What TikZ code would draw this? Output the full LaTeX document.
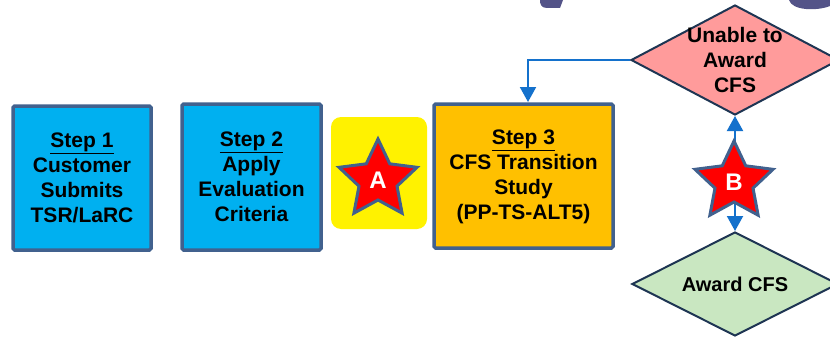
\documentclass[tikz,border=0pt]{standalone}
\usepackage{fontspec}
\setmainfont{Liberation Sans}
\usetikzlibrary{shapes.geometric,arrows.meta}
\definecolor{stepblue}{HTML}{00B0F0}
\definecolor{stepgold}{HTML}{FFC000}
\definecolor{steprim}{HTML}{41618E}
\definecolor{noaward}{HTML}{FF9B9B}
\definecolor{yesaward}{HTML}{C9E7C1}
\definecolor{dline}{HTML}{1E3553}
\definecolor{flow}{HTML}{1471CC}
\definecolor{titlefrag}{HTML}{535388}
\newcommand\steptitle[1]{\underline{#1}}
\tikzset{
  stepbox/.style={draw=steprim,line width=3.5pt,rounded corners=1.5pt},
  decision/.style={diamond,draw=dline,line width=2pt,inner sep=0pt},
  dtext/.style={align=center,font=\bfseries\fontsize{21}{25}\selectfont},
  markstar/.style={star,star points=5,star point ratio=2.05,fill=red,draw=steprim,
    line width=3pt,minimum size=82pt,inner sep=0pt,text=white,
    font=\bfseries\fontsize{24}{24}\selectfont},
  flowline/.style={draw=flow,line width=2pt,-{Triangle[width=16pt,length=15pt]}}
}
\begin{document}
\begin{tikzpicture}[x=1pt,y=-1pt]
\useasboundingbox (0,0) rectangle (830,337);
% bits of the cut-off title
\fill[titlefrag] (540,0) -- (563,0) -- (560,8) -- (547,8) .. controls (541,8) and (540,4) .. (540,0) -- cycle;
\fill[titlefrag] (789,0) .. controls (792,11) and (818,11) .. (830,6) -- (830,0) -- cycle;
% steps
\draw[stepbox,fill=stepblue] (13,106) rectangle (151,250);
\node[dtext] (step1) at (82,178) {\steptitle{Step 1}\\Customer\\Submits\\TSR/LaRC};
\draw[stepbox,fill=stepblue] (182,104) rectangle (321,250);
\node[dtext] (step2) at (251.5,177) {\steptitle{Step 2}\\Apply\\Evaluation\\Criteria};
\fill[yellow,rounded corners=10pt] (331,117) rectangle (427,229);
\draw[stepbox,fill=stepgold] (434,104) rectangle (613,248);
\node[dtext] (step3) at (523.5,177) {\steptitle{Step 3}\\CFS Transition\\Study\\(PP-TS-ALT5)};
% decisions
\node[decision,fill=noaward,minimum width=208pt,minimum height=110pt] (unable) at (735,60) {};
\node[dtext] (unabletxt) at (unable) {Unable to\\Award\\CFS};
\node[decision,fill=yesaward,minimum width=206pt,minimum height=104pt] (award) at (735,284) {};
\node[dtext,font=\bfseries\fontsize{20}{25}\selectfont] (awardtxt) at (award) {Award CFS};
\coordinate (back) at (528,102);
\draw[flowline] (unable.west) -| (back);
\draw[flowline] (735,181) -- (unable.south);
\draw[flowline] (735,181) -- (award.north);
% markers
\node[markstar] (starA) at (378,180) {A};
\node[markstar] (starB) at (734,182) {B};
\end{tikzpicture}
\end{document}
